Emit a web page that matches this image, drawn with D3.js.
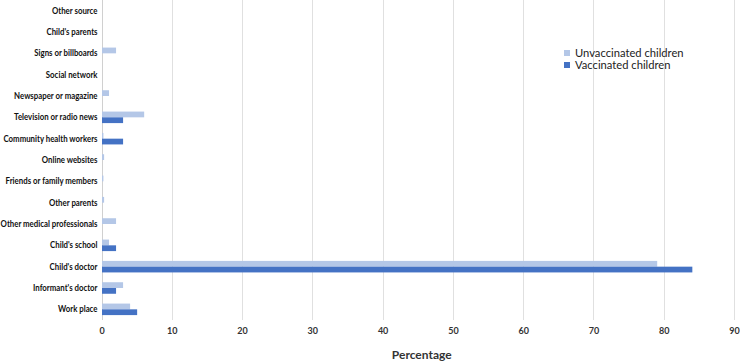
<!DOCTYPE html>
<html><head><meta charset="utf-8">
<script src="https://cdn.jsdelivr.net/npm/d3@7"></script>
<style>body{margin:0;background:#fff}</style>
</head><body>
<svg id="c" width="740" height="362"></svg>
<script>
const categories = ["Other source","Child's parents","Signs or billboards","Social network","Newspaper or magazine","Television or radio news","Community health workers","Online websites","Friends or family members","Other parents","Other medical professionals","Child's school","Child's doctor","Informant's doctor","Work place"];
const unvaccinated = [0,0,2,0,1,6,0.2,0.3,0.2,0.3,2,1,79,3,4];
const vaccinated   = [0,0,0,0,0,3,3,0,0,0,0,2,84,2,5];
const seriesNames = ["Unvaccinated children","Vaccinated children"];
const colors = ["#b4c7e7","#4472c4"];
const xTicks = [0,10,20,30,40,50,60,70,80,90];

const svg = d3.select("#c");
const mLeft = 101.5, mRight = 734, mTop = 0, mBottom = 320;
const x = d3.scaleLinear().domain([0,90]).range([mLeft,mRight]);
const y = d3.scaleBand().domain(categories).range([mTop,mBottom]).paddingInner(0.46).paddingOuter(0.23);
const ys = d3.scaleBand().domain([0,1]).range([0,y.bandwidth()]);

// gridlines
svg.append("g").selectAll("line").data(xTicks).join("line")
  .attr("x1",d=>Math.round(x(d))+0.5).attr("x2",d=>Math.round(x(d))+0.5)
  .attr("y1",mTop).attr("y2",mBottom)
  .attr("stroke",d=>d===0?"#d0d0d0":"#e0e0e0").attr("stroke-width",1);

const data = [unvaccinated, vaccinated];
data.forEach((vals,si)=>{
  svg.append("g").selectAll("rect").data(categories).join("rect")
    .attr("x",x(0)+0.5)
    .attr("y",(c)=>y(c)+ys(si))
    .attr("width",(c,i)=>Math.max(0,x(vals[i])-x(0)))
    .attr("height",ys.bandwidth())
    .attr("fill",colors[si]);
});

// y labels
const yAxis = d3.axisLeft(y).tickSize(0).tickPadding(4);
const gy = svg.append("g").attr("transform",`translate(${mLeft},0)`).call(yAxis);
gy.select(".domain").remove();
gy.selectAll("text").attr("font-family","Lato, sans-serif").attr("font-weight","bold").attr("font-size","9px").attr("fill","#111")
  .attr("dy","0.35em")
  .each(function(){ const L=this.getComputedTextLength(); d3.select(this).attr("textLength",L*0.87).attr("lengthAdjust","spacingAndGlyphs"); });

// x axis labels
const xAxis = d3.axisBottom(x).tickValues(xTicks).tickSize(0).tickPadding(7);
const gx = svg.append("g").attr("transform",`translate(0,${mBottom+1})`).call(xAxis);
gx.select(".domain").remove();
gx.selectAll("text").attr("font-family","Lato, sans-serif").attr("font-weight","bold").attr("font-size","9px").attr("fill","#333");

svg.append("text").attr("x",(mLeft+mRight)/2+4).attr("y",359)
  .attr("text-anchor","middle").attr("font-family","Lato, sans-serif").attr("font-weight","bold").attr("font-size","12px").attr("fill","#333")
  .text("Percentage");

// legend
const lg = svg.append("g").attr("transform","translate(564,50)");
seriesNames.forEach((n,i)=>{
  lg.append("rect").attr("x",0).attr("y",i*12).attr("width",6).attr("height",6).attr("fill",colors[i]);
  lg.append("text").attr("x",11).attr("y",i*12+3).attr("dy","0.35em")
    .attr("font-family","Lato, sans-serif").attr("font-size","11.2px").attr("fill","#222").text(n);
});
</script>
</body></html>
